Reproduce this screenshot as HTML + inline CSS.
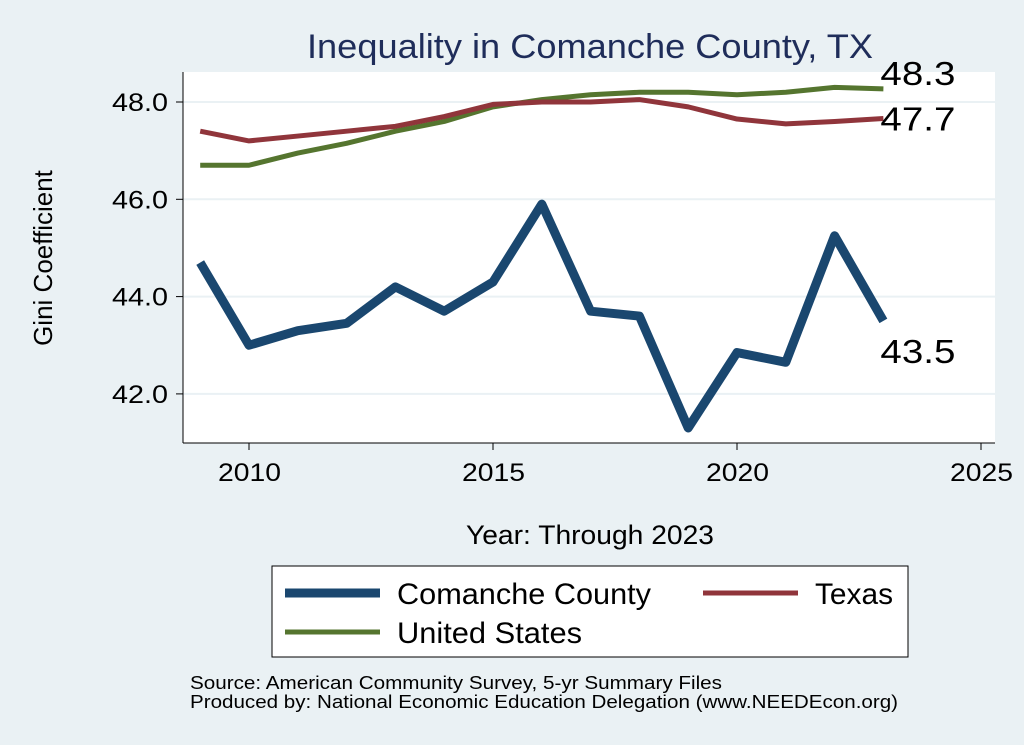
<!DOCTYPE html>
<html><head><meta charset="utf-8"><style>
body{margin:0;background:#eaf1f4;font-family:"Liberation Sans",sans-serif;}
svg{display:block}
</style></head><body>
<svg id="chart" width="1024" height="745">
<rect x="0" y="0" width="1024" height="745" fill="#eaf1f4"/>
<rect x="183" y="72" width="812" height="371" fill="#fff"/>
<text x="307" y="58" textLength="566" lengthAdjust="spacingAndGlyphs" font-size="34" fill="#1f2d5a">Inequality in Comanche County, TX</text>
<text transform="translate(52,258) rotate(-90)" text-anchor="middle" font-size="26" fill="#000">Gini Coefficient</text>
<text x="466" y="544" textLength="248" lengthAdjust="spacingAndGlyphs" font-size="27" fill="#000">Year: Through 2023</text>
<g id="grid"></g><g id="axes"></g><g id="series"></g>
<rect x="272" y="566" width="636" height="91" fill="#fff" stroke="#000" stroke-width="1"/>
<g><line x1="285" y1="593" x2="380" y2="593" stroke="#1a476f" stroke-width="9"/><text x="397" y="604" textLength="254" lengthAdjust="spacingAndGlyphs" font-size="30">Comanche County</text></g>
<g><line x1="703" y1="593" x2="798" y2="593" stroke="#90353b" stroke-width="5"/><text x="815" y="604" textLength="78" lengthAdjust="spacingAndGlyphs" font-size="30">Texas</text></g>
<g><line x1="285" y1="632" x2="380" y2="632" stroke="#55752f" stroke-width="5"/><text x="397" y="643" textLength="185" lengthAdjust="spacingAndGlyphs" font-size="30">United States</text></g>
<text x="190" y="689" textLength="532" lengthAdjust="spacingAndGlyphs" font-size="18">Source: American Community Survey, 5-yr Summary Files</text>
<text x="190" y="708" textLength="708" lengthAdjust="spacingAndGlyphs" font-size="18">Produced by: National Economic Education Delegation (www.NEEDEcon.org)</text>
</svg>
<script>
const years=[2009,2010,2011,2012,2013,2014,2015,2016,2017,2018,2019,2020,2021,2022,2023];
const comanche=[44.7,43.0,43.3,43.45,44.2,43.7,44.3,45.9,43.7,43.6,41.3,42.85,42.65,45.25,43.5];
const texas=[47.4,47.2,47.3,47.4,47.5,47.7,47.95,48.0,48.0,48.05,47.9,47.65,47.55,47.6,47.66];
const us=[46.7,46.7,46.95,47.15,47.4,47.6,47.9,48.05,48.15,48.2,48.2,48.15,48.2,48.3,48.27];
const yTicks=[42,44,46,48];
const xTicks=[2010,2015,2020,2025];
const NS="http://www.w3.org/2000/svg";
const X=v=>249+(v-2010)*48.8;
const Y=v=>102+(48-v)*48.65;
function mk(tag,attrs,parent){const e=document.createElementNS(NS,tag);for(const k in attrs)e.setAttribute(k,attrs[k]);parent.appendChild(e);return e;}
const grid=document.getElementById('grid'),axes=document.getElementById('axes'),ser=document.getElementById('series');
mk('line',{x1:183,y1:72,x2:183,y2:443,stroke:'#000'},axes);
mk('line',{x1:183,y1:443,x2:995,y2:443,stroke:'#000'},axes);
yTicks.forEach(t=>{
 const g=mk('line',{x1:183,x2:995,y1:Y(t),y2:Y(t),stroke:'#eaf1f4','stroke-width':2},grid);
 
 mk('line',{x1:176,x2:183,y1:Y(t),y2:Y(t),stroke:'#000'},axes);
 const tx=mk('text',{x:168,y:Y(t)+9,'text-anchor':'end','font-size':25,textLength:56,lengthAdjust:'spacingAndGlyphs'},axes);tx.textContent=t.toFixed(1);
 
});
xTicks.forEach(t=>{
 mk('line',{x1:X(t),x2:X(t),y1:443,y2:450,stroke:'#000'},axes);
 const tx=mk('text',{x:X(t)-31,y:481,'font-size':25,textLength:63,lengthAdjust:'spacingAndGlyphs'},axes);tx.textContent=t;
 
});
function line(vals,color,w,name){
 const p=mk('polyline',{points:vals.map((v,i)=>X(years[i])+','+Y(v)).join(' '),fill:'none',stroke:color,'stroke-width':w,'stroke-linejoin':'round'},ser);
 
}
line(us,'#55752f',5,'us-line');
line(texas,'#90353b',5,'texas-line');
line(comanche,'#1a476f',9,'comanche-line');
const n=years.length-1;
[[us,-4,'us-end-label'],[texas,12,'texas-end-label'],[comanche,42,'comanche-end-label']].forEach(([a,dy,nm])=>{
 const t=mk('text',{x:X(years[n])-3,y:Y(a[n])+dy,'font-size':33,textLength:75,lengthAdjust:'spacingAndGlyphs'},ser);t.textContent=a[n].toFixed(1);
 
});
</script>
</body></html>
